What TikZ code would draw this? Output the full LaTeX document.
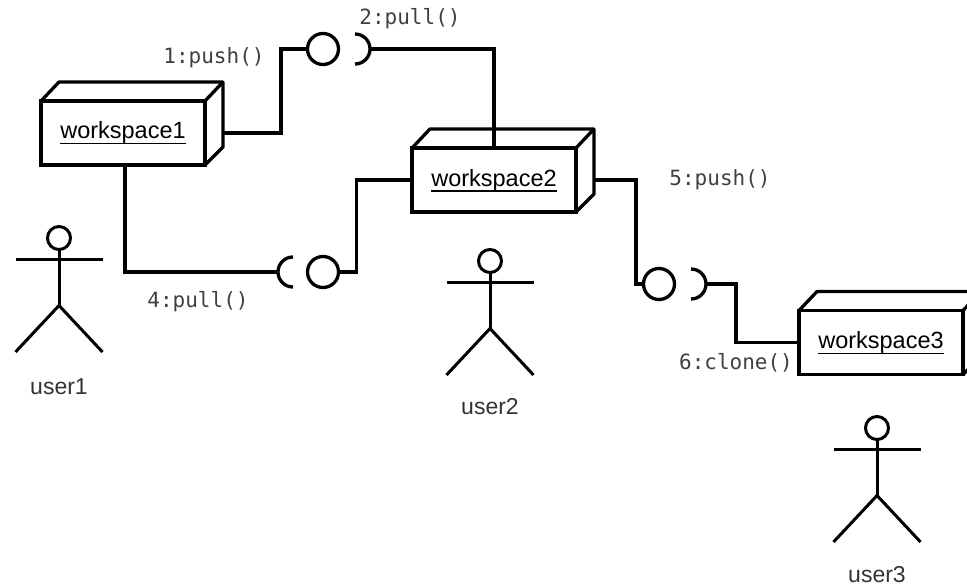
\documentclass[tikz,border=0pt]{standalone}
\usepackage{fontspec}
\setmainfont{Liberation Sans}
\setmonofont{DejaVu Sans Mono}

\newcommand{\wsname}[1]{\vtop{\hbox{\smash{#1}}\kern 4pt\hrule height 1.5pt}}

\tikzset{   wsbox/.style={draw=black,rectangle,fill=white,minimum width=164pt,minimum height=64pt,inner sep=0pt,outer sep=0pt,line width=3.3pt,text height=16pt,text depth=4pt,font=\fontsize{23.5}{26}\selectfont},
            cirlolly/.style={draw=black,circle,fill=white,minimum size=31pt,inner sep=0pt,outer sep=0pt,line width=3.3pt},
            cirhead/.style={draw=black,circle,fill=white,minimum size=23pt,inner sep=0pt,outer sep=0pt,line width=3pt},
            wire/.style={draw=black,line width=3.3pt},
            limb/.style={draw=black,line width=3pt},
            msglabel/.style={font=\ttfamily\fontsize{21}{24}\selectfont,text=black!75},
            userlabel/.style={font=\fontsize{23}{26}\selectfont,text=black!80},
}

\begin{document}
\begin{tikzpicture}[x=1pt,y=-1pt]
    \path[use as bounding box,clip] (0,0) rectangle (967,586);

    \node[wsbox] (ws1) at (123,133) {\wsname{workspace1}};  % workspaces
    \node[wsbox] (ws2) at (494,180) {\wsname{workspace2}};
    \node[wsbox] (ws3) at (881,342.5) {\wsname{workspace3}};

    \foreach \ws in {ws1,ws2,ws3} {  % draw depth of the boxes
        \draw[wire,line join=round] (\ws.north west) -- ++(18,-19) -- ++(164,0) -- ++(0,65) -- (\ws.south east);
        \draw[wire] (\ws.north east) -- ++(18,-19);
    }

    \coordinate (ws1r) at ([xshift=18pt]ws1.east);
    \coordinate (ws2r) at ([xshift=18pt]ws2.east);

    \node[cirlolly] (c1) at (323,49) {};  % lollipops
    \node[cirlolly] (c4) at (323,272) {};
    \node[cirlolly] (c5) at (659,284) {};

    \coordinate (s2) at (370,49);  % sockets
    \coordinate (s4) at (278,272);
    \coordinate (s6) at (706,284);
    \draw[wire] (s2) ++(-15,-15) to[out=0,in=90] (s2) to[out=-90,in=0] ++(-15,15);
    \draw[wire] (s4) ++(15,-15) to[out=180,in=90] (s4) to[out=-90,in=180] ++(15,15);
    \draw[wire] (s6) ++(-15,-15) to[out=0,in=90] (s6) to[out=-90,in=0] ++(-15,15);

    \draw[wire] (ws1r) -- ++(58,0) |- (c1.west);  % connectors
    \draw[wire] (s2) -| (ws2.north);
    \draw[wire] ([xshift=2pt]ws1.south) |- (s4);
    \draw[wire] (c4.east) -- ++(18,0) |- (ws2.west);
    \draw[wire] (ws2r) -- ++(42,0) |- (c5.west);
    \draw[wire] (s6) -- ++(30,0) |- (ws3.west);

    \node[msglabel] (m1) at (214,58) {1:push()};  % message labels
    \node[msglabel] (m2) at (410,19) {2:pull()};
    \node[msglabel] (m4) at (198,302) {4:pull()};
    \node[msglabel] (m5) at (720,180) {5:push()};
    \node[msglabel] (m6) at (736,363) {6:clone()};

    \foreach \name/\x/\y/\ly in {user1/59/238/387,user2/490/261/407,user3/877/428/575} {  % actors
        \node[cirhead] (\name) at (\x,\y) {};
        \draw[limb] (\name.south) -- ++(0,56) coordinate (\name hip);
        \draw[limb] ([xshift=-43.5pt,yshift=-10pt]\name.south) -- ++(87,0);
        \draw[limb] (\name hip) -- ++(-43.5,46.5);
        \draw[limb] (\name hip) -- ++(43.5,46.5);
        \node[userlabel] (\name label) at (\x,\ly) {\name};
    }
\end{tikzpicture}
\end{document}
